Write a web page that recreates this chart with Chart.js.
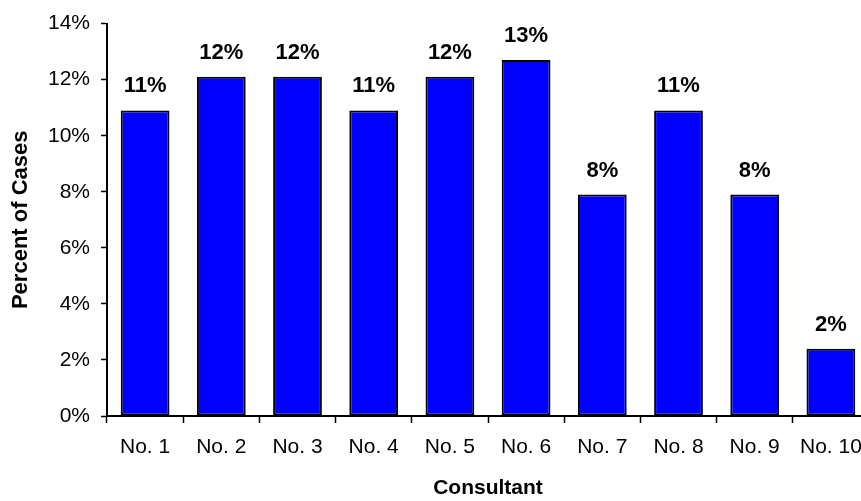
<!DOCTYPE html>
<html>
<head>
<meta charset="utf-8">
<script src="https://cdn.jsdelivr.net/npm/chart.js@4/dist/chart.umd.min.js"></script>
<style>
  html, body { margin: 0; padding: 0; background: #fff; }
  body { width: 861px; height: 501px; overflow: hidden; }
  #wrap { width: 869px; height: 501px; }
</style>
</head>
<body>
<div id="wrap"><canvas id="chart" width="869" height="501"></canvas></div>
<script>
const consultants = ['No. 1', 'No. 2', 'No. 3', 'No. 4', 'No. 5', 'No. 6', 'No. 7', 'No. 8', 'No. 9', 'No. 10'];
const percentOfCases = [10.9, 12.1, 12.1, 10.9, 12.1, 12.7, 7.9, 10.9, 7.9, 2.4];
const yTicks = [0, 2, 4, 6, 8, 10, 12, 14];

const FONT = "Arial, 'Liberation Sans', sans-serif";

// value labels above each bar, rounded to whole percent
const barLabels = {
  id: 'barLabels',
  afterDatasetsDraw(chart) {
    const ctx = chart.ctx;
    const meta = chart.getDatasetMeta(0);
    ctx.save();
    ctx.font = 'bold 22px ' + FONT;
    ctx.fillStyle = '#000';
    ctx.textAlign = 'center';
    ctx.textBaseline = 'alphabetic';
    meta.data.forEach((bar, i) => {
      ctx.fillText(Math.round(percentOfCases[i]) + '%', bar.x, bar.y - 18);
    });
    ctx.restore();
  }
};

new Chart(document.getElementById('chart'), {
  type: 'bar',
  data: {
    labels: consultants,
    datasets: [{
      data: percentOfCases,
      backgroundColor: '#0000ff',
      borderColor: '#000',
      borderWidth: 2,
      borderSkipped: false,
      categoryPercentage: 1,
      barPercentage: 0.64
    }]
  },
  options: {
    responsive: false,
    animation: false,
    layout: { padding: { top: 23, right: 0, bottom: 0, left: 0 } },
    plugins: {
      legend: { display: false },
      tooltip: { enabled: false }
    },
    scales: {
      x: {
        // fixed axis height; let the last label run off the right edge
        afterFit(scale) {
          scale.height = 85;
          scale.paddingRight = 0;
        },
        grid: {
          drawOnChartArea: false,
          drawTicks: true,
          tickLength: 7,
          tickColor: '#000',
          tickWidth: 1.5
        },
        border: { color: '#000', width: 2 },
        ticks: {
          color: '#000',
          font: { family: FONT, size: 21 },
          padding: 12,
          maxRotation: 0
        },
        title: {
          display: true,
          text: 'Consultant',
          color: '#000',
          font: { family: FONT, size: 21, weight: 'bold' },
          padding: { top: 0, bottom: 0 }
        }
      },
      y: {
        min: 0,
        max: 14,
        afterFit(scale) { scale.width = 107; },
        afterBuildTicks(scale) { scale.ticks = yTicks.map(v => ({ value: v })); },
        grid: {
          drawOnChartArea: false,
          drawTicks: true,
          tickLength: 6,
          tickColor: '#000',
          tickWidth: 1.5
        },
        border: { color: '#000', width: 2 },
        ticks: {
          color: '#000',
          font: { family: FONT, size: 21 },
          padding: 11,
          callback: v => v + '%'
        },
        title: {
          display: true,
          text: 'Percent of Cases',
          color: '#000',
          font: { family: FONT, size: 22, weight: 'bold' },
          padding: { top: 8, bottom: 0 }
        }
      }
    }
  },
  plugins: [barLabels]
});
</script>
</body>
</html>
